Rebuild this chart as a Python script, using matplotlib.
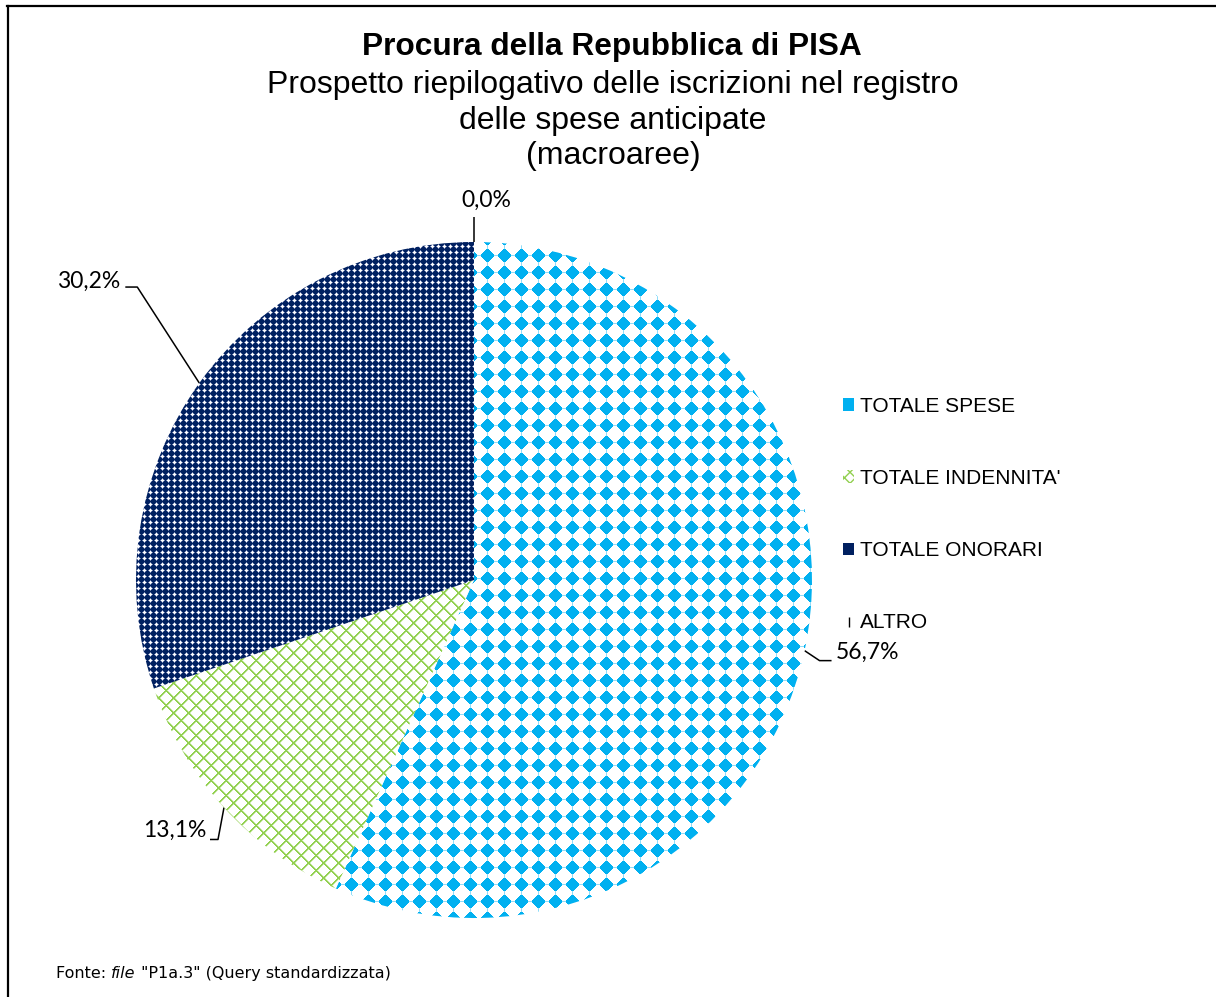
import numpy as np
import matplotlib
matplotlib.use("Agg")
import matplotlib.pyplot as plt
from matplotlib.patches import Patch
from matplotlib.lines import Line2D

# data
categories = ["TOTALE SPESE", "TOTALE INDENNITA'", "TOTALE ONORARI", "ALTRO"]
shares = [56.7, 13.1, 30.2, 0.0]
labels = ["56,7%", "13,1%", "30,2%", "0,0%"]

title = "Procura della Repubblica di PISA"
subtitle = ["Prospetto riepilogativo delle iscrizioni nel registro",
            "delle spese anticipate", "(macroaree)"]

W, H = 1216, 997
fig = plt.figure(figsize=(W / 100, H / 100), dpi=100)
fig.patch.set_facecolor("white")

# pie placed in pixel terms: centre (474, 580), radius 338
cx, cy, r = 474, 580, 338
ax = fig.add_axes([(cx - r) / W, (H - cy - r) / H, 2 * r / W, 2 * r / H])
wedges, _ = ax.pie(shares, startangle=90, counterclock=False, colors=["white"] * 4,
                   wedgeprops=dict(linewidth=0))
ax.set_xlim(-1, 1)
ax.set_ylim(-1, 1)
ax.set_aspect("equal")
ax.axis("off")

# textures (Excel-like pattern fills), built at pixel level
yy, xx = np.mgrid[0:H, 0:W]

def rgb(h):
    h = h.lstrip("#")
    return np.array([int(h[i:i + 2], 16) for i in (0, 2, 4)], dtype=np.uint8)

def blank():
    img = np.empty((H, W, 3), dtype=np.uint8)
    img[:] = 255
    return img

# light blue diamonds
tex_spese = blank()
dx = ((xx - 487 + 8) % 17) - 8
dy = ((yy - 255 + 8) % 17) - 8
adx, ady = np.abs(dx), np.abs(dy)
d = adx + ady
tex_spese[((dx == 0) & (ady <= 8)) | ((dy == 0) & (adx <= 8))] = rgb("#8fdcf8")
tex_spese[(d <= 7) & (np.maximum(adx, ady) <= 6)] = rgb("#00B0F0")

# green diagonal lattice
tex_ind = blank()
a = (xx + yy) % 15
b = (xx - yy) % 15
tex_ind[(a == 2) | (b == 2)] = rgb("#d2ecb6")
tex_ind[(a <= 1) | (b <= 1)] = rgb("#92D050")

# dense navy checker
tex_ono = blank()
ex = (xx % 6) - 3
ey = (yy % 6) - 3
e = np.abs(ex) + np.abs(ey)
tex_ono[:] = rgb("#002060")
tex_ono[e == 4] = rgb("#7484b0")
tex_ono[e >= 5] = rgb("#ffffff")

for w, tex in zip(wedges[:3], [tex_spese, tex_ind, tex_ono]):
    im = fig.figimage(tex, xo=0, yo=0, origin="upper", zorder=1)
    im.set_clip_path(w)

# data labels with leader lines (offsets in pixels: right, down)
label_font = dict(family="Lato", fontsize=16.5, color="black")
leaders = [
    dict(elbow=(15, 10), end=(27, 10), text=(31, 2), ha="left"),
    dict(elbow=(-6, 32), end=(-14, 32), text=(-18, 23), ha="right"),
    dict(elbow=(-62, -96), end=(-74, -96), text=(-79, -102), ha="right"),
    dict(elbow=(0, -25), end=(0, -25), text=(12, -42), ha="center"),
]

def px(p, off):
    return p[0] + off[0] / r, p[1] - off[1] / r

for w, lab, ld in zip(wedges, labels, leaders):
    mid = np.deg2rad((w.theta1 + w.theta2) / 2)
    edge = (np.cos(mid), np.sin(mid))
    pts = [edge, px(edge, ld["elbow"]), px(edge, ld["end"])]
    ax.plot([p[0] for p in pts], [p[1] for p in pts], color="black", lw=1.1,
            clip_on=False, zorder=3, solid_capstyle="butt")
    tx, ty = px(edge, ld["text"])
    ax.text(tx, ty, lab, ha=ld["ha"], va="center", **label_font)

# titles
fig.text(612 / W, 1 - 47 / H, title, ha="center", va="center",
         family="Liberation Sans", fontsize=22.8, fontweight="bold")
for txt, y in zip(subtitle, [85, 121, 156]):
    fig.text(613 / W, 1 - y / H, txt, ha="center", va="center",
             family="Liberation Sans", fontsize=23)

# legend
handles = [
    Patch(facecolor="#00B0F0", edgecolor="none"),
    Patch(facecolor="white", edgecolor="#92D050", hatch="xxx", linewidth=0),
    Patch(facecolor="#002060", edgecolor="none"),
    Line2D([], [], color="black", marker="|", linestyle="none", markersize=7),
]
fig.legend(handles, categories, loc="upper left",
           bbox_to_anchor=(843 / W, 1 - 397 / H), frameon=False,
           prop=dict(family="Liberation Sans", size=15),
           handlelength=0.55, handleheight=0.55, handletextpad=0.25,
           labelspacing=2.55, borderpad=0, borderaxespad=0)

# footer "Fonte: file ..." with italic word
renderer = fig.canvas.get_renderer()
x = 56 / W
fy = 1 - 973 / H
for part, style in [("Fonte: ", "normal"), ("file", "italic"),
                    (' "P1a.3" (Query standardizzata)', "normal")]:
    t = fig.text(x, fy, part, ha="left", va="center", family="DejaVu Sans",
                 fontsize=11.5, style=style)
    bb = t.get_window_extent(renderer)
    x += bb.width / W

# chart border (left and top edges visible)
fig.add_artist(Line2D([7.5 / W, 7.5 / W], [0, 1 - 6.5 / H], transform=fig.transFigure,
                      color="black", lw=1.6))
fig.add_artist(Line2D([6.5 / W, 1], [1 - 6.5 / H, 1 - 6.5 / H], transform=fig.transFigure,
                      color="black", lw=1.6))

fig.savefig("out.png", dpi=100)
